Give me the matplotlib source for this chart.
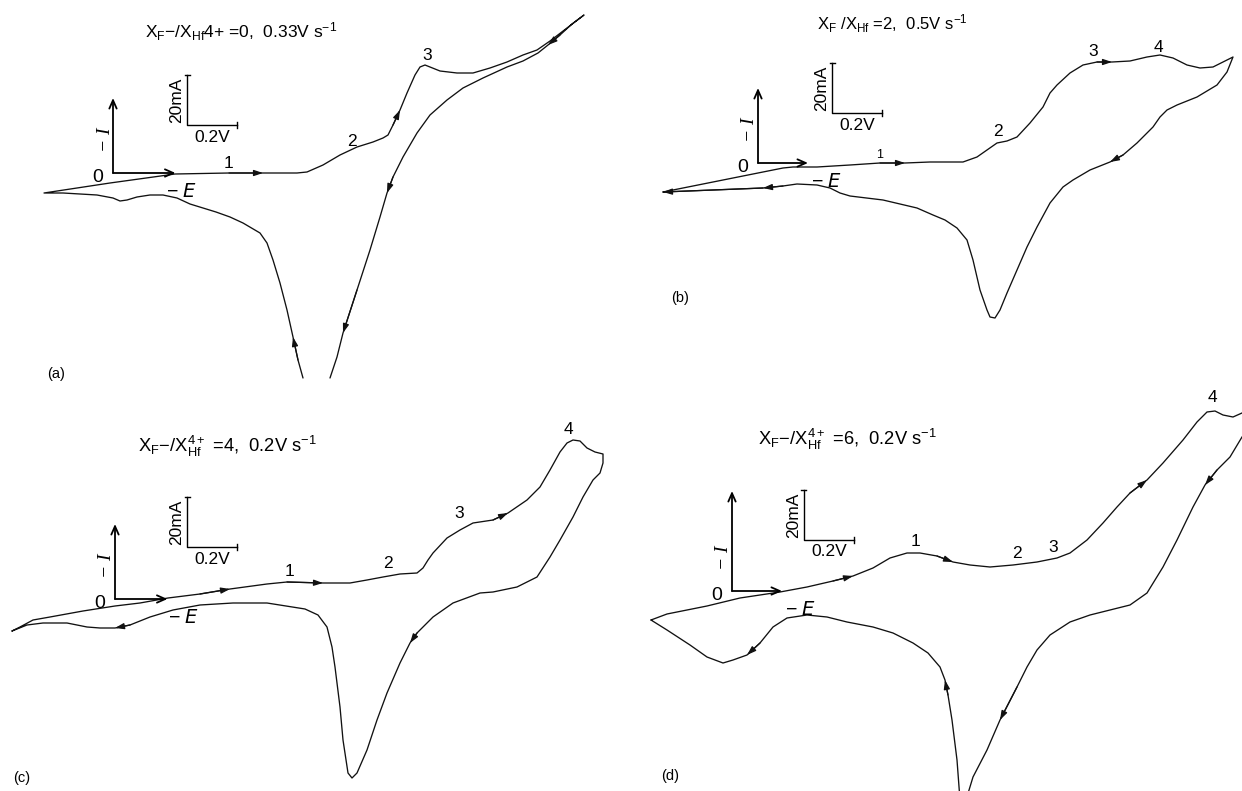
import matplotlib
matplotlib.use("Agg")
import matplotlib.pyplot as plt

plt.rcParams['font.family'] = ['Liberation Sans', 'DejaVu Sans']
plt.rcParams['mathtext.default'] = 'regular'

W, H, DPI = 1242, 791, 100
PX_PER_V = 250.0     # drawing scale: 0.2 V  = 50 px
PX_PER_MA = 2.5      # drawing scale: 20 mA = 50 px

# ---------------- data: E (V, positive = -E direction), I (mA, positive = -I) ----------------
# (a) X_F-/X_Hf4+ = 0, 0.33 V/s
a_E = [0.760, 0.740, 0.720, 0.696, 0.668, 0.640, 0.616, 0.588, 0.520, 0.468, 0.412, 0.360,
       0.308, 0.256, 0.200, 0.148, 0.096, 0.056, 0.028, 0.000, -0.064, -0.132, -0.200, -0.276,
       -0.012, 0.248, 0.464, 0.600, 0.736, 0.776, 0.840, 0.908, 0.976, 1.040, 1.080, 1.100,
       1.120, 1.148, 1.176, 1.208, 1.228, 1.248, 1.268, 1.308, 1.376, 1.440, 1.508, 1.576,
       1.640, 1.696, 1.748, 1.816, 1.884,
       1.836, 1.788, 1.740, 1.700, 1.640, 1.576, 1.480, 1.400, 1.336, 1.268, 1.216, 1.160,
       1.120, 1.096, 1.068, 1.028, 0.976, 0.920, 0.896, 0.868]
a_I = [-82.0, -74.8, -65.6, -54.8, -44.0, -34.8, -28.0, -24.0, -20.0, -17.6, -15.6, -14.0,
       -12.4, -10.0, -8.8, -8.8, -9.6, -10.8, -11.2, -10.0, -8.8, -8.4, -8.0, -8.0,
       -4.0, -0.4, 0.0, 0.0, 0.0, 0.4, 3.2, 7.2, 10.4, 12.4, 14.0, 15.2,
       19.2, 25.2, 32.0, 39.2, 42.4, 43.2, 42.4, 40.8, 40.0, 40.0, 42.0, 44.4,
       47.2, 49.2, 52.8, 58.0, 63.2,
       59.6, 55.2, 51.2, 48.0, 44.8, 42.4, 38.0, 34.0, 29.2, 23.2, 16.0, 6.4,
       -1.6, -8.0, -17.6, -30.8, -46.8, -64.0, -73.6, -82.0]
a_arrows = [2, 27, 37, 55, 66, 70]
a_peaks = ['1', '2', '3']

# (b) X_F/X_Hf = 2, 0.5 V/s
b_E = [-0.380, 0.100, 0.140, 0.236, 0.368, 0.488, 0.588, 0.688, 0.820, 0.876, 0.916, 0.956,
       0.996, 1.036, 1.088, 1.140, 1.168, 1.196, 1.248, 1.300, 1.356, 1.416, 1.488, 1.556,
       1.608, 1.660, 1.716, 1.768, 1.820, 1.860, 1.900,
       1.876, 1.836, 1.756, 1.676, 1.636, 1.608, 1.580, 1.516, 1.460, 1.408, 1.328, 1.260,
       1.220, 1.168, 1.116, 1.076, 1.036, 0.996, 0.968, 0.948, 0.928, 0.916, 0.888, 0.860,
       0.836, 0.796, 0.748, 0.700, 0.636, 0.500, 0.368, 0.328, 0.288, 0.236, 0.156, 0.100,
       0.020, -0.380]
b_I = [-11.6, -2.0, -1.6, -1.6, -0.8, 0.0, 0.0, 0.4, 0.4, 2.4, 5.2, 8.0,
       8.8, 10.4, 16.0, 22.4, 28.0, 31.2, 36.0, 39.2, 40.4, 40.4, 40.8, 42.4,
       43.2, 42.0, 39.2, 38.0, 38.4, 40.4, 42.4,
       36.4, 31.2, 26.4, 23.2, 21.2, 18.4, 14.4, 8.0, 3.2, 0.4, -2.8, -6.8,
       -9.6, -16.0, -25.6, -33.6, -42.8, -52.0, -58.8, -62.0, -61.6, -58.8, -50.8, -38.8,
       -30.8, -26.0, -22.8, -20.8, -18.0, -14.8, -13.2, -12.0, -10.0, -8.8, -8.4, -9.2,
       -10.0, -11.6]
b_arrows = [6, 21, 40, 67, 68]
b_peaks = ['1', '2', '3', '4']

# (c) X_F-/X_Hf4+ = 4, 0.2 V/s
c_E = [-0.412, -0.380, -0.328, -0.260, -0.128, 0.000, 0.100, 0.212, 0.340, 0.460, 0.608, 0.688,
       0.832, 0.940, 1.008, 1.072, 1.140, 1.208, 1.232, 1.252, 1.272, 1.328, 1.380, 1.432,
       1.512, 1.572, 1.648, 1.700, 1.740, 1.780, 1.808, 1.832, 1.860, 1.888, 1.920, 1.952,
       1.952, 1.940, 1.912, 1.872, 1.832, 1.780, 1.740, 1.688, 1.608, 1.512, 1.460, 1.352,
       1.272, 1.208, 1.180, 1.140, 1.088, 1.048, 1.008, 0.968, 0.948, 0.932, 0.912, 0.900,
       0.880, 0.868, 0.848, 0.812, 0.760, 0.608, 0.472, 0.340, 0.232, 0.140, 0.060, 0.000,
       -0.060, -0.112, -0.192, -0.288, -0.352, -0.412]
c_I = [-12.8, -11.2, -8.4, -7.2, -4.8, -2.8, -1.6, 0.4, 2.0, 4.0, 6.0, 6.8,
       6.4, 6.4, 7.6, 8.8, 10.0, 10.4, 12.4, 15.6, 18.4, 24.4, 27.6, 30.4,
       31.6, 34.4, 39.6, 44.8, 51.6, 58.8, 62.4, 63.6, 63.2, 60.4, 58.8, 58.0,
       54.4, 50.4, 47.6, 40.8, 32.8, 23.6, 16.8, 8.8, 4.8, 2.8, 2.4, -1.6,
       -7.2, -13.6, -17.6, -25.6, -37.6, -48.4, -60.4, -69.6, -71.6, -69.6, -56.4, -43.2,
       -27.2, -19.2, -11.2, -6.4, -4.0, -1.6, -1.6, -2.4, -4.4, -7.2, -10.4, -11.6,
       -11.6, -11.2, -9.6, -9.6, -10.4, -12.8]
c_arrows = [9, 12, 25, 50, 71]
c_peaks = ['1', '2', '3', '4']

# (d) X_F-/X_Hf4+ = 6, 0.2 V/s
d_E = [-0.324, -0.260, -0.100, 0.032, 0.192, 0.300, 0.404, 0.484, 0.564, 0.632, 0.700, 0.752,
       0.820, 0.884, 0.952, 1.032, 1.124, 1.220, 1.300, 1.352, 1.420, 1.484, 1.540, 1.592,
       1.660, 1.724, 1.804, 1.860, 1.900, 1.932, 1.964, 2.004, 2.040, 2.080,
       2.080, 2.040, 1.992, 1.940, 1.892, 1.844, 1.780, 1.724, 1.660, 1.592, 1.512, 1.432,
       1.352, 1.272, 1.220, 1.180, 1.140, 1.072, 1.020, 0.964, 0.936,
       0.912, 0.900, 0.880, 0.864, 0.852, 0.832, 0.784, 0.724, 0.644, 0.564, 0.460, 0.380,
       0.300, 0.220, 0.164, 0.112, 0.060, 0.004, -0.036, -0.100, -0.168, -0.260, -0.324]
d_I = [-11.6, -9.2, -6.0, -2.8, -0.4, 1.6, 4.0, 6.0, 9.2, 13.2, 15.2, 15.2,
       14.0, 11.6, 10.4, 9.6, 10.4, 11.6, 13.2, 15.2, 20.4, 27.2, 33.6, 39.2,
       44.4, 51.2, 60.4, 67.6, 71.6, 72.0, 70.4, 69.6, 71.2, 74.0,
       66.4, 61.6, 53.6, 48.4, 42.4, 33.6, 20.4, 9.6, -0.8, -5.6, -7.6, -9.6,
       -12.4, -17.6, -23.6, -30.4, -38.4, -51.6, -63.6, -74.4, -83.6,
       -83.6, -67.6, -51.6, -41.6, -35.6, -30.4, -24.8, -20.8, -16.8, -14.4, -12.4, -10.4,
       -9.6, -10.8, -14.4, -20.8, -25.6, -27.6, -28.8, -26.4, -21.6, -15.6, -11.6]
d_arrows = [7, 13, 24, 38, 51, 59, 71]
d_peaks = ['1', '2', '3', '4']

titles = [
    r'$X_{F}$−/$X_{Hf}$4+ =0,  0.33V s$^{-1}$',
    r'$X_{F}$ /$X_{Hf}$ =2,  0.5V s$^{-1}$',
    r'$X_{F}$−/$X_{Hf}^{4+}$ =4,  0.2V s$^{-1}$',
    r'$X_{F}$−/$X_{Hf}^{4+}$ =6,  0.2V s$^{-1}$',
]
panel_letters = ['(a)', '(b)', '(c)', '(d)']
BAR_V, BAR_MA = 0.2, 20

# ---------------- layout (pixel positions in the 1242x791 canvas) ----------------
layout = [
    dict(origin=(113, 173), ax_len=(0.25, 30), bar=(0.296, 19.2), title=(145, 32), tsize=12.5,
         peaks=[(229, 164), (352, 141), (427, 55)], psize=[12.5, 12.5, 12.5], letter=(56, 374)),
    dict(origin=(758, 163), ax_len=(0.20, 30), bar=(0.296, 20.0), title=(817, 24), tsize=12,
         peaks=[(880, 155), (998, 131), (1093, 52), (1158, 47)], psize=[9, 12.5, 12.5, 12.5],
         letter=(680, 298)),
    dict(origin=(115, 599), ax_len=(0.21, 30), bar=(0.288, 20.8), title=(138, 446), tsize=13.2,
         peaks=[(290, 572), (388, 564), (459, 514), (568, 429)], psize=[12.5] * 4, letter=(22, 778)),
    dict(origin=(732, 591), ax_len=(0.20, 40), bar=(0.288, 20.4), title=(758, 439), tsize=13.2,
         peaks=[(915, 541), (1017, 554), (1053, 547), (1212, 397)], psize=[12.5] * 4,
         letter=(670, 776)),
]
curves = [(a_E, a_I, a_arrows, a_peaks), (b_E, b_I, b_arrows, b_peaks),
          (c_E, c_I, c_arrows, c_peaks), (d_E, d_I, d_arrows, d_peaks)]

fig = plt.figure(figsize=(W / DPI, H / DPI), dpi=DPI)
fig.patch.set_facecolor('white')


def ftext(x, y, s, **kw):
    kw.setdefault('ha', 'center')
    kw.setdefault('va', 'center')
    kw.setdefault('color', 'k')
    fig.text(x / W, 1 - y / H, s, **kw)


for k, (lay, (E, I, arrows, peaks)) in enumerate(zip(layout, curves)):
    x0, y0 = lay['origin']
    ax = fig.add_axes([0, 0, 1, 1], facecolor='none')
    ax.set_xlim(-x0 / PX_PER_V, (W - x0) / PX_PER_V)
    ax.set_ylim(-(H - y0) / PX_PER_MA, y0 / PX_PER_MA)
    ax.axis('off')

    # the voltammogram
    ax.plot(E, I, color='#111111', lw=0.95, solid_joinstyle='round', solid_capstyle='round')
    for i in arrows:
        ax.annotate('', xy=(E[i], I[i]), xytext=(E[i - 1], I[i - 1]),
                    arrowprops=dict(arrowstyle='-|>,head_length=0.6,head_width=0.2',
                                    color='#111111', lw=0.9, shrinkA=0, shrinkB=0,
                                    mutation_scale=9))

    # -I / -E axis arrows
    hx, vy = lay['ax_len']
    for tgt in [(0, vy), (hx, 0)]:
        ax.annotate('', xy=tgt, xytext=(0, 0),
                    arrowprops=dict(arrowstyle='->,head_length=0.5,head_width=0.22',
                                    color='k', lw=1.3, shrinkA=0, shrinkB=0,
                                    mutation_scale=12))

    # scale bar
    cE, cI = lay['bar']
    ax.plot([cE, cE, cE + BAR_V], [cI + BAR_MA, cI, cI], color='k', lw=1.0)
    ax.plot([cE - 0.01, cE + 0.01], [cI + BAR_MA, cI + BAR_MA], color='k', lw=1.0)
    ax.plot([cE + BAR_V, cE + BAR_V], [cI - 1.2, cI + 1.2], color='k', lw=1.0)
    bx = x0 + cE * PX_PER_V
    by = y0 - cI * PX_PER_MA
    ftext(bx - 10, by - 25, '20mA', rotation=90, fontsize=12.5)
    ftext(bx + 25, by + 12, '0.2V', fontsize=12.5)

    # axis labels
    ftext(x0 - 15, y0 + 5, '0', fontsize=14)
    ftext(x0 - 8, y0 - 33, '− I', rotation=90, fontsize=14,
          family='Liberation Serif', style='italic')
    ftext(x0 + 69, y0 + 19, '− $\\mathit{E}$', fontsize=14)

    # title, peak numbers, panel letter
    tx, ty = lay['title']
    ftext(tx, ty, titles[k], ha='left', fontsize=lay['tsize'])
    for (px, py), lab, fs in zip(lay['peaks'], peaks, lay['psize']):
        ftext(px, py, lab, fontsize=fs)
    lx, ly = lay['letter']
    ftext(lx, ly, panel_letters[k], fontsize=10.5)

fig.savefig('out.png', dpi=DPI, facecolor='white')
